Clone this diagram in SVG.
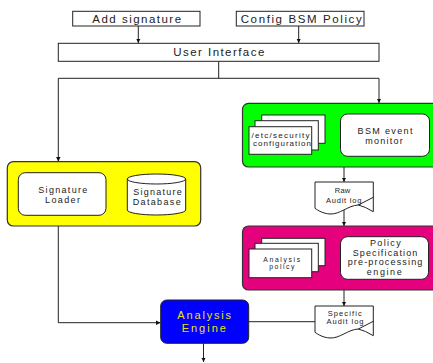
<svg xmlns="http://www.w3.org/2000/svg" width="433" height="363" viewBox="0 0 433 363">
<defs>
<marker id="ah" viewBox="0 0 6 6" refX="6" refY="3" markerWidth="4.5" markerHeight="4.5" orient="auto-start-reverse" markerUnits="userSpaceOnUse">
<path d="M0,0 L6,3 L0,6 Z" fill="#111"/>
</marker>
</defs>
<style>
text{font-family:"Liberation Sans",Arial,sans-serif;fill:#222;text-anchor:middle}
.top{font-size:11.5px}
.sm{font-size:9px}
.s8{font-size:8px}
.xs{font-size:7.5px}
.x7{font-size:6.8px}
.ae{font-size:11px;fill:#e6e600}
.box{fill:#fff;stroke:#222;stroke-width:1}
.grp{stroke:#333;stroke-width:1.2}
.ln{fill:none;stroke:#222;stroke-width:1}
.arr{fill:none;stroke:#222;stroke-width:1;marker-end:url(#ah)}
.dbl{fill:none;stroke:#222;stroke-width:1;marker-end:url(#ah);marker-start:url(#ah)}
</style>
<rect width="433" height="363" fill="#fff"/>

<g id="connectors">
<path class="arr" d="M138.3,26 V43"/>
<path class="arr" d="M298.7,26 V43"/>
<path class="ln" d="M218.7,61.3 V78.3 M58.3,78.3 H379"/>
<path class="arr" d="M58.3,78.3 V161.5"/>
<path class="arr" d="M379,78.3 V103"/>
<path class="dbl" d="M319.5,134.3 H340.5"/>
<path class="dbl" d="M106,193.7 H127.3"/>
<path class="arr" d="M344,167 V182"/>
<path class="arr" d="M344,210 V226"/>
<path class="dbl" d="M319.5,257.5 H340.5"/>
<path class="arr" d="M344,290 V306"/>
<path class="ln" d="M315,321.7 H248.7"/>
<path class="arr" d="M58.3,226 V322.7 H160.5"/>
<path class="arr" d="M203.5,343.3 V362"/>
</g>

<g id="add-signature">
<rect class="box" x="72.7" y="11.3" width="127.3" height="14.7"/>
<text class="top" x="136.7" y="22.5" textLength="88.7">Add signature</text>
</g>
<g id="config-bsm">
<rect class="box" x="236.3" y="11.3" width="127.7" height="14.7"/>
<text class="top" x="301.2" y="22.7" textLength="121">Config BSM Policy</text>
</g>
<g id="user-interface">
<rect class="box" x="58.3" y="43.3" width="320.7" height="18"/>
<text class="top" x="218.8" y="56" textLength="91">User Interface</text>
</g>

<g id="bsm-group">
<rect class="grp" x="242.5" y="103.3" width="200" height="63.7" rx="6" fill="#00ff00"/>
</g>
<g id="etc-security">
<rect class="box" x="261.7" y="115" width="63.3" height="28.3"/>
<rect class="box" x="255" y="120.7" width="63.3" height="29.3"/>
<rect class="box" x="249" y="126.7" width="62.7" height="27.6"/>
<text class="s8" x="280.5" y="137.5" textLength="58">/etc/security</text>
<text class="s8" x="282" y="146.3" textLength="58">configuration</text>
</g>
<g id="bsm-monitor">
<rect class="box" x="340.5" y="114" width="89" height="42.3" rx="7"/>
<text class="sm" x="385" y="133.7" textLength="55">BSM event</text>
<text class="sm" x="384" y="144" textLength="37.7">monitor</text>
</g>

<g id="raw-audit-log">
<path class="box" d="M315,182 H373.3 V211.7 Q365,206.5 358.3,205 C348,205.5 340,214.5 330,214 C323,213.6 318,210.5 315,208.3 Z"/>
<path class="ln" d="M373.3,197.3 L358.3,205"/>
<text class="xs" x="342.5" y="193.3" textLength="15.5">Raw</text>
<text class="xs" x="343.7" y="203" textLength="35.3">Audit log</text>
</g>

<g id="policy-group">
<rect class="grp" x="242.5" y="226" width="200" height="64" rx="6" fill="#e5007d"/>
</g>
<g id="analysis-policy">
<rect class="box" x="261.7" y="238.3" width="63.3" height="27.4"/>
<rect class="box" x="255" y="243.3" width="63.3" height="28.4"/>
<rect class="box" x="249" y="249" width="62.7" height="28.7"/>
<text class="x7" x="281.7" y="261.5" textLength="36.7">Analysis</text>
<text class="x7" x="281.8" y="268.7" textLength="25">policy</text>
</g>
<g id="policy-spec">
<rect class="box" x="340.5" y="236.7" width="88" height="42.6" rx="7"/>
<text class="sm" x="385.3" y="246" textLength="30.7">Policy</text>
<text class="sm" x="385" y="255.7" textLength="64.7">Specification</text>
<text class="sm" x="385" y="265.3" textLength="74.7">pre-processing</text>
<text class="sm" x="384.2" y="275" textLength="35">engine</text>
</g>

<g id="specific-audit-log">
<path class="box" d="M315,306 H373.3 V335.7 Q365,330.5 358.3,329 C348,329.5 340,338.5 330,338 C323,337.6 318,334.5 315,332.3 Z"/>
<path class="ln" d="M373.3,321.3 L358.3,329"/>
<text class="xs" x="344.7" y="315.8" textLength="34">Specific</text>
<text class="xs" x="345" y="323.8" textLength="37">Audit log</text>
</g>

<g id="signature-group">
<rect class="grp" x="7.3" y="161.7" width="193.4" height="64.3" rx="6" fill="#ffff00"/>
</g>
<g id="signature-loader">
<rect class="box" x="18.3" y="172.7" width="87.7" height="42.6" rx="7"/>
<text class="sm" x="62.8" y="192.7" textLength="49">Signature</text>
<text class="sm" x="62.5" y="202.7" textLength="35">Loader</text>
</g>
<g id="signature-database">
<path class="box" d="M127.3,179 V210 A29.2,5 0 0 0 185.7,210 V179 A29.2,5 0 0 0 127.3,179 Z"/>
<path class="ln" d="M127.3,179 A29.2,5 0 0 0 185.7,179"/>
<text class="sm" x="157.5" y="195" textLength="48.4">Signature</text>
<text class="sm" x="156.7" y="205" textLength="48">Database</text>
</g>

<g id="analysis-engine">
<rect x="160.7" y="300" width="88" height="43.3" rx="6" fill="#0000ff" stroke="#222" stroke-width="1"/>
<text class="ae" x="204.2" y="318.8" textLength="53.7">Analysis</text>
<text class="ae" x="203.8" y="331.6" textLength="44.3">Engine</text>
</g>
</svg>
